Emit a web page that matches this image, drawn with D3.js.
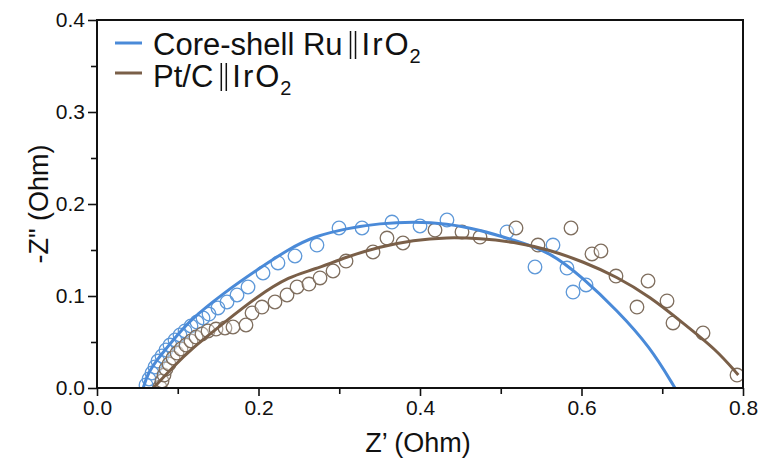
<!DOCTYPE html>
<html><head><meta charset="utf-8">
<script src="https://cdn.jsdelivr.net/npm/d3@7"></script>
<style>html,body{margin:0;padding:0;background:#fff}svg{display:block}text{font-family:"Liberation Sans",Arial,sans-serif}</style>
</head><body>
<svg id="c" width="764" height="463"></svg>
<script>
// Tick values
const xMajorTicks = [0.0, 0.2, 0.4, 0.6, 0.8];
const xMinorTicks = [0.1, 0.3, 0.5, 0.7];
const yMajorTicks = [0.0, 0.1, 0.2, 0.3, 0.4];
const yMinorTicks = [0.05, 0.15, 0.25, 0.35];

// Series names
const seriesNames = ["Core-shell Ru", "Pt/C"];

// Core-shell Ru || IrO2 measured points (Z', -Z'')
const ruX = [0.0607,0.0644,0.0681,0.0718,0.0755,0.0805,0.0854,0.0904,0.0966,0.1028,0.1090,0.1164,0.1238,0.1313,0.1387,0.1498,0.1610,0.1734,0.1870,0.2056,0.2241,0.2452,0.2724,0.2997,0.3282,0.3653,0.4000,0.4334,0.5077,0.5647,0.5424,0.5820,0.6056,0.5895];
const ruY = [0.0033,0.0098,0.0163,0.0228,0.0293,0.0348,0.0413,0.0467,0.0522,0.0576,0.0620,0.0674,0.0717,0.0761,0.0804,0.0870,0.0935,0.1011,0.1098,0.1250,0.1359,0.1435,0.1554,0.1739,0.1739,0.1804,0.1761,0.1826,0.1696,0.1554,0.1315,0.1304,0.1120,0.1043];

// Pt/C || IrO2 measured points
const ptX = [0.0780,0.0805,0.0830,0.0854,0.0892,0.0941,0.0991,0.1040,0.1102,0.1164,0.1226,0.1300,0.1375,0.1474,0.1585,0.1684,0.1845,0.1920,0.2043,0.2204,0.2353,0.2477,0.2625,0.2762,0.2923,0.3084,0.3418,0.3591,0.3789,0.4186,0.4520,0.4743,0.5189,0.5461,0.5870,0.6130,0.6241,0.6427,0.6824,0.6687,0.7059,0.7133,0.7505,0.7926];
const ptY = [0.0011,0.0076,0.0141,0.0207,0.0261,0.0326,0.0380,0.0424,0.0467,0.0511,0.0554,0.0587,0.0620,0.0641,0.0652,0.0663,0.0685,0.0815,0.0880,0.0935,0.1011,0.1098,0.1130,0.1196,0.1272,0.1380,0.1478,0.1630,0.1576,0.1717,0.1696,0.1641,0.1739,0.1554,0.1739,0.1457,0.1489,0.1217,0.1163,0.0880,0.0946,0.0707,0.0598,0.0141];

// Fitted curves
const ruFitX = [0.0573,0.0620,0.0739,0.0945,0.1152,0.1564,0.1978,0.2390,0.2679,0.3092,0.3505,0.3917,0.4331,0.4743,0.5155,0.5610,0.6019,0.6436,0.6848,0.7158];
const ruFitY = [0.0,0.0140,0.0304,0.0522,0.0739,0.1029,0.1283,0.1518,0.1645,0.1736,0.1790,0.1808,0.1790,0.1717,0.1609,0.1482,0.1196,0.0848,0.0449,0.0];
const ptFitX = [0.0697,0.0945,0.1152,0.1564,0.1978,0.2390,0.2679,0.3092,0.3505,0.3917,0.4331,0.4743,0.5155,0.5610,0.6022,0.6436,0.6848,0.7261,0.7674,0.7942];
const ptFitY = [0.0,0.0232,0.0413,0.0703,0.0992,0.1217,0.1283,0.1427,0.1536,0.1609,0.1638,0.1627,0.1590,0.1500,0.1373,0.1210,0.0992,0.0703,0.0413,0.0141];

const blueLine = "#4a8ad8", brownLine = "#7a5f48";
const blueMark = "#5e98d8", brownMark = "#7f6e5e";

const svg = d3.select("#c");
const L = 97, R = 743, T = 20, B = 388;
const x = d3.scaleLinear().domain([0, 0.8]).range([L, R]);
const y = d3.scaleLinear().domain([0, 0.4]).range([B, T]);

svg.append("defs").append("clipPath").attr("id","clip")
  .append("rect").attr("x",L).attr("y",T).attr("width",R-L).attr("height",B-T);

const plot = svg.append("g").attr("clip-path","url(#clip)");

function pts(xs, ys){ return xs.map((v,i)=>[v, ys[i]]); }

// markers
plot.append("g").selectAll("circle").data(pts(ruX, ruY)).join("circle")
  .attr("cx", d=>x(d[0])).attr("cy", d=>y(d[1])).attr("r", 6.8)
  .attr("fill","none").attr("stroke", blueMark).attr("stroke-width",1.3);
plot.append("g").selectAll("circle").data(pts(ptX, ptY)).join("circle")
  .attr("cx", d=>x(d[0])).attr("cy", d=>y(d[1])).attr("r", 6.8)
  .attr("fill","rgba(255,255,255,0.35)").attr("stroke", brownMark).attr("stroke-width",1.3);

const line = d3.line().x(d=>x(d[0])).y(d=>y(d[1])).curve(d3.curveBasis);
plot.append("path").attr("d", line(pts(ruFitX, ruFitY))).attr("fill","none")
  .attr("stroke", blueLine).attr("stroke-width",3);
plot.append("path").attr("d", line(pts(ptFitX, ptFitY))).attr("fill","none")
  .attr("stroke", brownLine).attr("stroke-width",3);

// frame
svg.append("rect").attr("x",L).attr("y",T).attr("width",R-L).attr("height",B-T)
  .attr("fill","none").attr("stroke","#111").attr("stroke-width",2);

// axes
const xAx = svg.append("g").attr("transform",`translate(0,${B})`)
  .call(d3.axisBottom(x).tickValues(xMajorTicks).tickFormat(d3.format(".1f")).tickSize(8).tickPadding(4));
const xAxMin = svg.append("g").attr("transform",`translate(0,${B})`)
  .call(d3.axisBottom(x).tickValues(xMinorTicks).tickFormat("").tickSize(6));
const yAx = svg.append("g").attr("transform",`translate(${L},0)`)
  .call(d3.axisLeft(y).tickValues(yMajorTicks).tickFormat(d3.format(".1f")).tickSize(9).tickPadding(3));
const yAxMin = svg.append("g").attr("transform",`translate(${L},0)`)
  .call(d3.axisLeft(y).tickValues(yMinorTicks).tickFormat("").tickSize(6));
[xAx,xAxMin,yAx,yAxMin].forEach(g=>{
  g.select(".domain").remove();
  g.selectAll("line").attr("stroke","#111").attr("stroke-width",1.6);
  g.selectAll("text").attr("font-size",21).attr("fill","#111")
   .style("font-family",'"Liberation Sans",Arial,sans-serif');
});

// axis titles
svg.append("text").attr("x", 418).attr("y", 452).attr("text-anchor","middle")
  .attr("font-size",27).attr("fill","#111").text("Z\u2019 (Ohm)");
svg.append("text").attr("transform",`translate(48,${(T+B)/2}) rotate(-90)`).attr("text-anchor","middle")
  .attr("font-size",27).attr("fill","#111").text("-Z\" (Ohm)");

// legend
const leg = [
  {name: seriesNames[0], color: blueLine, ly: 43, base: 55},
  {name: seriesNames[1], color: brownLine, ly: 73, base: 87}
];
leg.forEach(d=>{
  svg.append("line").attr("x1",115).attr("x2",142).attr("y1",d.ly).attr("y2",d.ly)
    .attr("stroke",d.color).attr("stroke-width",3);
  const t1 = svg.append("text").attr("x",153).attr("y",d.base).attr("font-size",31)
    .attr("fill","#111").text(d.name);
  const w = t1.node().getComputedTextLength();
  const bx = 153 + w + 8;
  [0, 5].forEach(o=>{
    svg.append("line").attr("x1",bx+o).attr("x2",bx+o).attr("y1",d.base-24).attr("y2",d.base+4)
      .attr("stroke","#111").attr("stroke-width",1.5);
  });
  const t2 = svg.append("text").attr("x",bx+11).attr("y",d.base).attr("font-size",31)
    .attr("letter-spacing",2).attr("fill","#111");
  t2.append("tspan").text("IrO");
  t2.append("tspan").attr("font-size",20).attr("dy",8).attr("dx",-1).text("2");
});
</script>
</body></html>
